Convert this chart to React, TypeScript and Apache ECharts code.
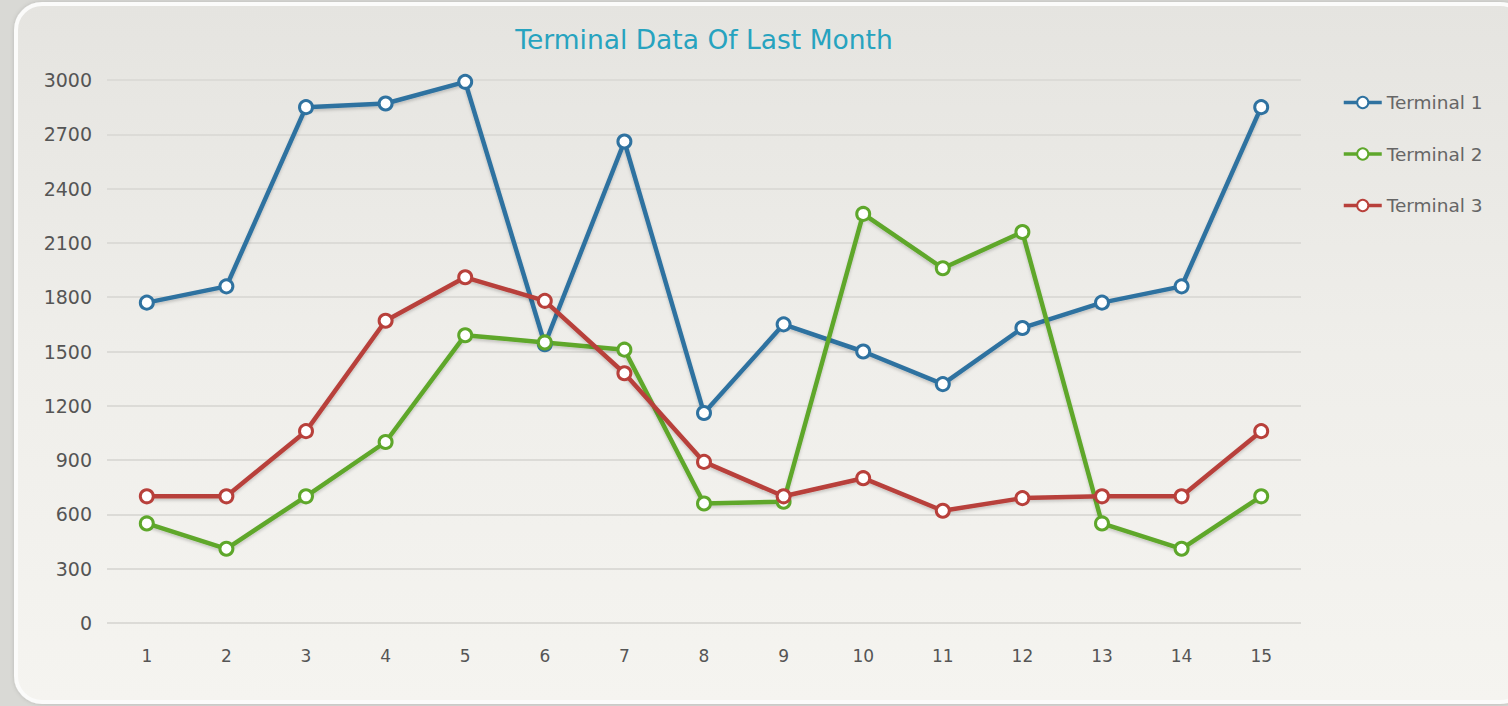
import React, { useEffect, useRef } from "react";
import * as echarts from "echarts";

const categories = ["1", "2", "3", "4", "5", "6", "7", "8", "9", "10", "11", "12", "13", "14", "15"];
const terminal1 = [1770, 1860, 2850, 2870, 2990, 1540, 2660, 1160, 1650, 1500, 1320, 1630, 1770, 1860, 2850];
const terminal2 = [550, 410, 700, 1000, 1590, 1550, 1510, 660, 670, 2260, 1960, 2160, 550, 410, 700];
const terminal3 = [700, 700, 1060, 1670, 1910, 1780, 1380, 890, 700, 800, 620, 690, 700, 700, 1060];
const seriesNames = ["Terminal 1", "Terminal 2", "Terminal 3"];
const colors = ["#2f72a0", "#5ea72b", "#b8403b"];

const FONT = "DejaVu Sans, Verdana, sans-serif";

export default function App() {
  const ref = useRef<HTMLDivElement>(null);
  useEffect(() => {
    if (!ref.current) return;
    const chart = echarts.init(ref.current, null, { renderer: "svg" });
    const mk = (name: string, data: number[], color: string) => ({
      name,
      type: "line",
      data,
      symbol: "circle",
      symbolSize: 13,
      color,
      lineStyle: { width: 4.5, color, shadowColor: "rgba(0,0,0,0.18)", shadowBlur: 3, shadowOffsetY: 2 },
      itemStyle: { color: "#ffffff", borderColor: color, borderWidth: 3 },
      z: 3,
    });
    chart.setOption({
      animation: false,
      backgroundColor: "#d9d9d5",
      graphic: [
        {
          type: "rect",
          shape: { x: 16, y: 4, width: 1510, height: 698, r: 26 },
          style: {
            fill: new echarts.graphic.LinearGradient(0, 0, 0, 1, [
              { offset: 0, color: "#e5e4e0" },
              { offset: 0.5, color: "#efeeea" },
              { offset: 1, color: "#f5f4f0" },
            ]),
            stroke: "#fbfbfa",
            lineWidth: 4,
            shadowColor: "rgba(0,0,0,0.15)",
            shadowBlur: 4,
          },
          z: -10,
          silent: true,
        },
      ],
      title: {
        text: "Terminal Data Of Last Month",
        left: 699,
        textAlign: "center",
        top: 21,
        textStyle: { color: "#27a3bf", fontSize: 26.5, fontWeight: "normal", fontFamily: FONT },
      },
      legend: {
        orient: "vertical",
        left: 1337,
        top: 88,
        itemGap: 32.5,
        itemWidth: 38,
        itemHeight: 14,
        data: seriesNames,
        lineStyle: { width: 3.5 },
        textStyle: { color: "#666", fontSize: 18.5, fontFamily: FONT },
      },
      grid: { left: 107, top: 80, width: 1194, height: 543, containLabel: false },
      xAxis: {
        type: "category",
        data: categories,
        boundaryGap: true,
        axisLine: { show: false },
        axisTick: { show: false },
        axisLabel: { color: "#555", fontSize: 17, margin: 24, fontFamily: FONT },
      },
      yAxis: {
        type: "value",
        min: 0,
        max: 3000,
        interval: 300,
        axisLine: { show: false },
        axisTick: { show: false },
        axisLabel: { color: "#555", fontSize: 19, margin: 15, fontFamily: FONT, formatter: (v: number) => String(v) },
        splitLine: { lineStyle: { color: "#dcdbd7", width: 2 } },
      },
      series: [
        mk(seriesNames[0], terminal1, colors[0]),
        mk(seriesNames[1], terminal2, colors[1]),
        mk(seriesNames[2], terminal3, colors[2]),
      ],
    });
    return () => chart.dispose();
  }, []);
  return <div ref={ref} style={{ position: "absolute", left: 0, top: 0, width: 1508, height: 706 }} />;
}
